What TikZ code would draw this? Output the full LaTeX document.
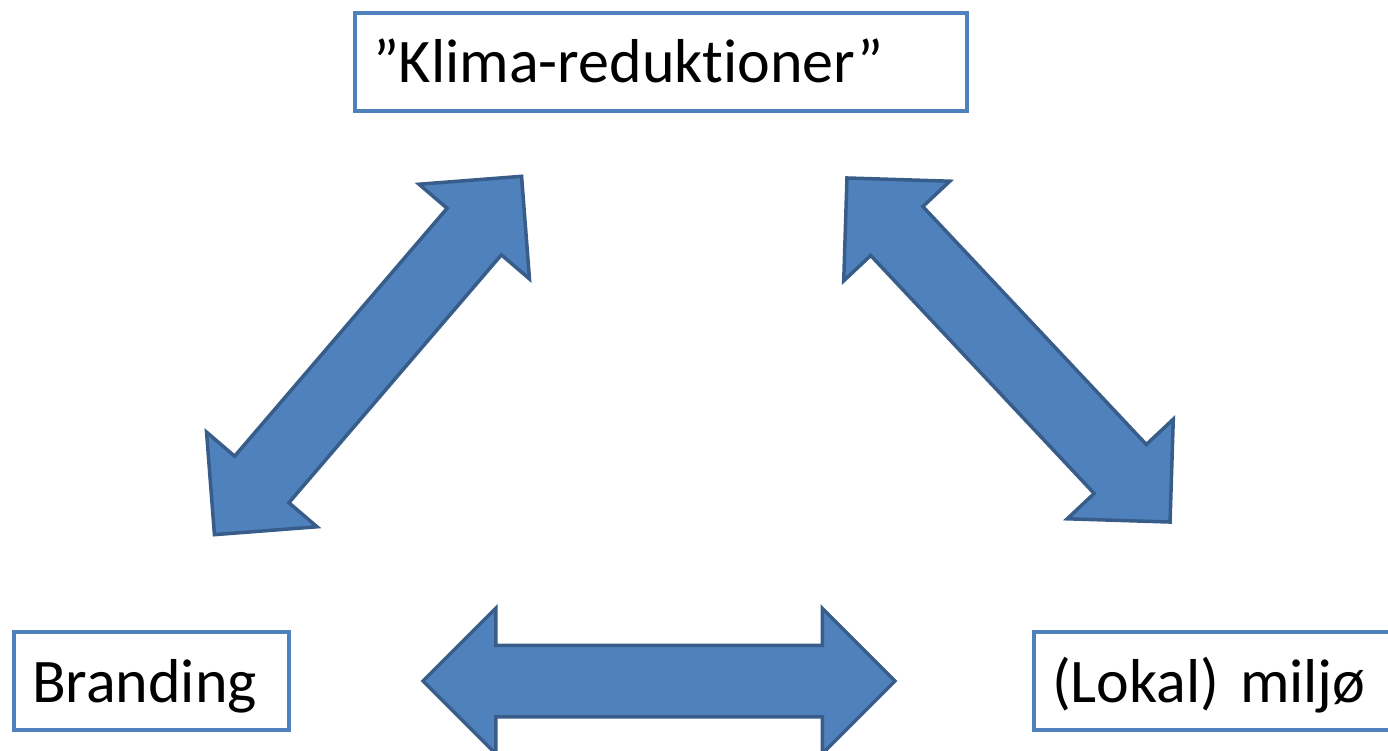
\documentclass[tikz,border=0pt]{standalone}
\usepackage{fontspec}
\setmainfont{Carlito}[Ligatures={TeX,NoCommon}]
\usetikzlibrary{shapes.arrows}
\definecolor{boxblue}{HTML}{4F81BD}
\definecolor{arrowfill}{HTML}{4F81BD}
\definecolor{arrowline}{HTML}{385D8A}
\tikzset{
  labelbox/.style={draw=boxblue,line width=4pt,inner xsep=18pt,inner ysep=0pt,
    text height=70pt,text depth=28pt,anchor=base west,align=left,
    font=\fontsize{62pt}{74pt}\selectfont},
  bigarrow/.style={double arrow,fill=arrowfill,draw=arrowline,line width=3.5pt,
    inner sep=34pt,minimum height=472pt,double arrow head extend=37pt}
}
\begin{document}
\begin{tikzpicture}[x=1pt,y=1pt]
  \useasboundingbox (0,0) rectangle (1388,-751);
  \clip (0,0) rectangle (1388,-751);
  \node[labelbox,text width=576pt] (klima) at (353,-83) {”Klima-reduktioner”};
  \node[labelbox,text width=239pt] (branding) at (12,-702) {Branding};
  \node[labelbox,text width=364pt] (miljo) at (1032,-702) {(Lokal) miljø};
  \node[bigarrow,rotate=49.4] (arrowBK) at (368,-355.5) {};
  \node[bigarrow,rotate=-46.8] (arrowKM) at (1008.5,-350) {};
  \node[bigarrow] (arrowBM) at (659,-681) {};
\end{tikzpicture}
\end{document}
